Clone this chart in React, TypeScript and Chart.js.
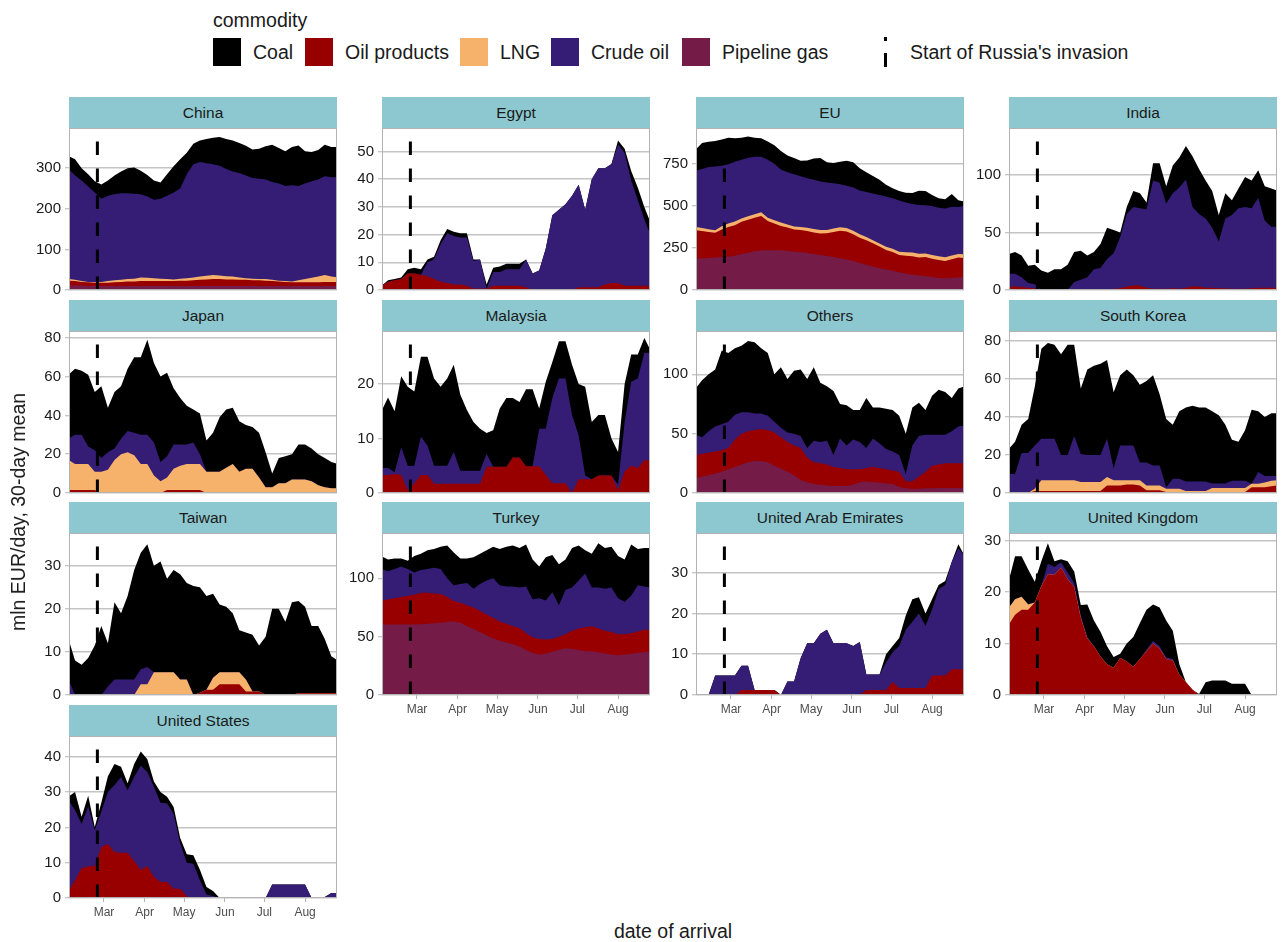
import React, { useEffect, useRef } from "react";
import { Chart, registerables } from "chart.js";

Chart.register(...registerables);

const FONT = "'Liberation Sans', Arial, Helvetica, sans-serif";

// x positions: day of year (Feb 2 = 33 ... Aug 26 = 238), 5-day steps
const days = [33, 38, 43, 48, 53, 58, 63, 68, 73, 78, 83, 88, 93, 98, 103, 108, 113, 118, 123, 128, 133, 138, 143, 148, 153, 158, 163, 168, 173, 178, 183, 188, 193, 198, 203, 208, 213, 218, 223, 228, 233, 238];
const monthTicks = [60, 91, 121, 152, 182, 213];
const monthLabels = ["Mar", "Apr", "May", "Jun", "Jul", "Aug"];
const invasionDay = 55;
const xMin = 33.4;
const xMax = 237.3;

// ---- China ----
const chinaPipe = [11, 11, 11, 10, 10, 10, 10, 10, 10, 10, 10, 10, 10, 10, 10, 10, 10, 10, 10, 10, 10, 10, 10, 10, 10, 10, 10, 10, 10, 10, 10, 10, 10, 10, 10, 10, 10, 10, 10, 10, 10, 10];
const chinaOil = [12, 11, 9, 9, 8, 8, 8, 9, 10, 11, 11, 12, 12, 12, 12, 12, 12, 13, 13, 14, 15, 16, 17, 17, 16, 16, 15, 15, 14, 14, 13, 12, 11, 10, 9, 9, 9, 9, 9, 10, 10, 10];
const chinaLng = [4, 3, 2, 1, 2, 2, 4, 5, 5, 6, 7, 9, 8, 7, 6, 5, 4, 5, 6, 7, 8, 9, 10, 9, 8, 7, 6, 4, 4, 3, 4, 3, 2, 2, 2, 5, 8, 11, 14, 17, 13, 11];
const chinaCrude = [271, 257, 248, 235, 220, 205, 210, 212, 213, 211, 209, 205, 200, 193, 197, 205, 214, 222, 256, 279, 282, 277, 273, 270, 264, 259, 257, 253, 248, 247, 245, 241, 239, 234, 237, 232, 235, 238, 239, 243, 245, 247];
const chinaCoal = [32, 40, 30, 30, 28, 35, 38, 46, 54, 62, 65, 58, 53, 48, 40, 53, 65, 72, 53, 50, 53, 60, 65, 71, 74, 76, 74, 73, 70, 74, 82, 92, 88, 86, 94, 100, 80, 72, 73, 78, 74, 74];

// ---- Egypt ----
const egyptOil = [1.5, 3, 3.5, 4, 6, 6, 5.5, 5, 4, 3, 2.5, 2, 2, 1.5, 0.5, 0.5, 0.5, 1.5, 1.5, 1.5, 1.5, 1.5, 1, 0, 0, 0, 0, 0, 0, 0, 1, 1, 1, 1, 2, 2.5, 2.5, 1.5, 1.5, 1.5, 1.5, 1.5];
const egyptCrude = [0, 0, 0, 0, 0, 0, 0, 5, 7, 13.5, 18, 17.5, 17, 17.5, 10, 10.5, 0, 5, 5, 6, 6, 6, 10, 6, 7, 15, 27, 29, 31, 34, 37, 28, 39, 43, 42, 43, 50, 48, 38, 31, 24, 18];
const egyptCoal = [0, 0.5, 0.5, 0.5, 1.5, 2, 2, 1, 1, 1.5, 1.5, 1.5, 1.5, 1.5, 0.5, 0, 1.5, 1.5, 2, 2, 2, 2, 0, 0, 0, 0, 0, 0, 0, 0, 0, 0, 0, 0, 0, 0, 1.5, 1.5, 3.5, 4.5, 4.5, 4.5];

// ---- EU ----
const euPipe = [186, 188, 190, 193, 196, 198, 204, 214, 222, 230, 235, 236, 236, 235, 232, 228, 224, 220, 214, 208, 202, 196, 188, 182, 172, 160, 150, 140, 130, 122, 114, 105, 97, 90, 86, 82, 77, 72, 70, 72, 75, 76];
const euOil = [169, 162, 155, 147, 164, 177, 181, 191, 196, 200, 205, 174, 159, 145, 140, 132, 132, 130, 128, 128, 136, 149, 164, 166, 160, 150, 146, 138, 128, 116, 112, 103, 106, 110, 107, 114, 109, 106, 103, 111, 118, 114];
const euLng = [20, 18, 16, 15, 19, 21, 22, 20, 21, 20, 22, 19, 20, 21, 18, 18, 19, 20, 21, 20, 19, 20, 21, 20, 20, 21, 19, 18, 18, 19, 19, 20, 22, 23, 22, 21, 22, 23, 22, 22, 21, 22];
const euCrude = [333, 352, 370, 379, 360, 351, 355, 349, 347, 342, 330, 345, 335, 316, 310, 310, 301, 294, 292, 289, 282, 269, 256, 252, 258, 260, 267, 278, 288, 299, 300, 304, 295, 288, 291, 287, 292, 288, 289, 290, 280, 288];
const euCoal = [126, 154, 150, 151, 155, 158, 140, 131, 127, 113, 110, 109, 110, 110, 100, 96, 92, 106, 126, 139, 120, 121, 134, 148, 150, 132, 118, 104, 91, 70, 60, 56, 58, 65, 84, 85, 65, 57, 56, 75, 40, 25];

// ---- India ----
const indiaOil = [3, 3, 2.5, 2, 1.5, 0, 0, 0, 0, 0, 0, 0, 0, 0, 0, 0, 1, 1.5, 3, 4, 4, 2, 1, 1, 1, 1.5, 1, 2, 3, 3, 2, 2, 1.5, 1.5, 1, 1, 1, 1.5, 2, 2, 2, 2];
const indiaCrude = [11, 11, 8.5, 4, 3.5, 0, 0, 0, 0, 0, 7, 9, 11, 18, 19, 27, 31, 44.5, 63, 68, 67, 68, 94, 92, 74, 82.5, 88, 94, 69, 63, 60, 52, 40.5, 60.5, 64, 70, 71, 69.5, 78, 58, 53, 53];
const indiaCoal = [17, 19, 19, 15, 17, 17, 15, 18, 18, 22, 26, 25, 19, 15, 21, 27, 20, 4, 6, 14, 13, 6, 15, 17, 15, 24, 26, 29, 44, 39, 33, 32, 23, 22, 13, 17, 26, 24, 24, 30, 33, 31];

// ---- Japan ----
const japanOil = [1.5, 1.5, 1.5, 1.5, 1.5, 0, 0, 0, 0, 0, 0, 0, 0, 0, 0, 1.5, 1.5, 1.5, 1.5, 1.5, 1.5, 0, 0, 0, 0, 0, 0, 0, 0, 0, 0, 0, 0, 0, 0, 0, 0, 0, 0, 0, 0, 0];
const japanLng = [15.5, 13.5, 13.5, 13.5, 9.5, 11, 12, 17, 20, 21, 19.5, 15, 15, 9, 6, 6.5, 11, 12.5, 13.5, 13.5, 13.5, 11, 11, 11, 13, 15, 11, 12.5, 12.5, 8, 3, 3, 5, 5, 7, 7, 7, 6, 4, 3, 2.5, 2.5];
const japanCrude = [11, 15, 15, 9, 11, 7, 9, 6, 8, 11, 11.5, 15, 15, 17, 10, 11, 12.5, 11, 10, 11, 5, 0, 0, 0, 0, 0, 0, 0, 0, 0, 0, 0, 0, 0, 0, 0, 0, 0, 0, 0, 0, 0];
const japanCoal = [33, 34, 33, 37, 30, 37, 23, 29, 27, 32, 39, 40, 49, 41, 44, 43, 29, 24, 20, 17, 21, 16, 20, 28, 30, 29, 26, 22.5, 21.5, 23, 18, 7, 13, 14, 13, 18, 18, 17, 16, 15, 13.5, 12.5];

// ---- Malaysia ----
const malaysiaOil = [3.3, 3.3, 3.5, 3.3, 0.5, 1.8, 3.3, 3.3, 1.7, 1.7, 1.7, 1.7, 1.7, 1.7, 1.7, 1.7, 4.8, 4.8, 4.8, 4.8, 6.5, 6.5, 4.9, 4.9, 4.9, 3.3, 1.8, 1.8, 1.8, 0, 2.5, 2.5, 2.5, 3.2, 3.2, 3.2, 0.5, 4, 5, 4.6, 6, 6];
const malaysiaCrude = [1.3, 1.3, 0.3, 5.1, 4.5, 3.2, 7, 5.4, 3.3, 3.3, 3.3, 5.8, 2.4, 2.4, 2.4, 2.4, 2.4, 0, 0, 0, 0, 0, 0, 0, 6.9, 8.5, 15.6, 19.2, 19.2, 14.3, 8.1, 0.7, 0, 0, 0, 0, 1, 9, 15.4, 16.4, 19.7, 19.7];
const malaysiaCoal = [10.4, 12.9, 11.2, 13, 14.5, 13.6, 14.7, 16.3, 16, 14.5, 16, 16, 13.9, 11.1, 8.9, 7.7, 3.8, 6.7, 10.7, 12.6, 10.9, 10.2, 14.1, 14.1, 3.7, 8.6, 6.6, 6.8, 6.8, 9.2, 9.4, 16.3, 10.5, 11.1, 11.1, 6.8, 6, 7, 5, 4.4, 2.7, 0.3];

// ---- Others ----
const othersPipe = [12, 14, 15, 16.5, 18, 20, 22, 24, 26, 27, 27, 26, 23, 20.5, 18, 15, 11, 9, 7.6, 7, 6.3, 6, 6, 6, 7, 9, 9.6, 9, 8.6, 8, 7.6, 5, 4, 3.4, 3.6, 4, 4, 4.2, 4.2, 4.2, 4.2, 4.2];
const othersOil = [20, 19, 19, 18.5, 18, 18, 23, 26, 26, 26, 27, 27, 28, 26.5, 25, 25, 27, 21, 18.4, 18, 17.7, 16, 15, 14, 13, 11, 11.4, 13, 12.4, 12, 11.4, 13, 6, 6.6, 10.4, 14, 19, 19.8, 20.8, 20.8, 20.8, 20.8];
const othersCrude = [17, 14, 18, 21, 22, 22, 21, 18, 16, 14, 13, 12, 9, 8, 8, 10, 10, 8, 18, 18, 20, 10, 25, 20, 25, 23, 17, 24, 21, 17, 16, 14, 6, 30, 34, 31, 26, 25, 24, 27, 31, 32];
const othersCoal = [39, 48, 48, 48, 62, 58, 56, 56, 60, 60, 55, 53, 40, 51, 45, 53, 56, 58, 62, 50, 46, 54, 29, 34, 25, 27, 42, 26, 30, 34, 35, 33, 34, 32, 28, 21, 33, 38, 36, 28, 32, 33];

// ---- South Korea ----
const skOil = [0, 0, 0, 0, 1, 1, 1, 1, 1, 1, 1, 1, 1, 1, 1, 4, 4, 4, 4.5, 4.5, 4, 1.4, 1.4, 1.4, 0.5, 0.5, 0.5, 0.5, 0.5, 0.5, 0.5, 0.5, 0.5, 0.5, 0.5, 0.5, 0.5, 3, 3, 3, 3.5, 4];
const skLng = [0, 0, 0, 0, 1.3, 5.7, 5.7, 5.7, 5.7, 5.7, 5.7, 4.8, 4.8, 4.8, 4.8, 4.4, 2.7, 2.7, 2.2, 2.2, 2.7, 2.6, 2.6, 2.6, 1.8, 1.8, 1.8, 0.5, 0.5, 0.5, 0.5, 2.1, 2.1, 2.1, 2.1, 2.1, 2.1, 1.9, 1.9, 2.5, 3, 2.7];
const skCrude = [10, 10, 21, 21, 22.7, 21.8, 21.8, 21.8, 13.3, 13.3, 23.3, 14.7, 14.2, 14.2, 14.2, 20.1, 6.3, 18.3, 18.3, 18.3, 9.3, 12, 10.5, 10.5, 0.7, 5.2, 5.2, 5, 5, 5, 5, 2.4, 2.4, 2.4, 3.9, 3.9, 3.9, 0, 6.1, 3.5, 2.5, 2.3];
const skCoal = [13, 17, 15, 18, 31, 47.5, 50.5, 49.5, 53, 58, 48, 34.5, 45, 47, 48, 41.5, 40, 37, 40, 37, 41, 43, 47.5, 37.5, 36, 28.5, 35.5, 39, 40, 39, 39, 38, 36, 31, 21.5, 20.5, 26.5, 39, 32, 31, 33, 33];

// ---- Taiwan ----
const taiwanOil = [0, 0, 0, 0, 0, 0, 0, 0, 0, 0, 0, 0, 0, 0, 0, 0, 0, 0, 0, 0, 0.5, 1.2, 1.2, 2.5, 2.5, 2.5, 2.5, 0.8, 0.8, 0.8, 0, 0, 0, 0, 0, 0.4, 0.4, 0.4, 0.4, 0.4, 0.4, 0.4];
const taiwanLng = [0, 0, 0, 0, 0, 0, 0, 0, 0, 0, 0, 2.5, 2.5, 5.3, 5.3, 5.3, 5.3, 3.6, 3.6, 0, 0, 0, 2.8, 2.8, 2.8, 2.8, 2.8, 2.8, 0, 0, 0, 0, 0, 0, 0, 0, 0, 0, 0, 0, 0, 0];
const taiwanCrude = [3.6, 0, 0, 0, 0, 0, 2, 3.6, 3.6, 3.6, 3.6, 3.5, 4, 0, 0, 0, 0, 0, 0, 0, 0, 0, 0, 0, 0, 0, 0, 0, 0, 0, 0, 0, 0, 0, 0, 0, 0, 0, 0, 0, 0, 0];
const taiwanCoal = [9.4, 8, 7, 8.6, 11.5, 16, 10, 17.9, 15.4, 19.4, 25.4, 27, 28.5, 24.7, 25.7, 21.7, 23.7, 24.4, 22.4, 25.3, 24.5, 21.8, 19.5, 15.7, 15.2, 13.7, 9.7, 10.9, 13.2, 10.7, 13.5, 20, 20, 17, 21.5, 21.4, 20.1, 15.6, 15.6, 12.6, 8.6, 7.6];

// ---- Turkey ----
const turkeyPipe = [60.3, 60.3, 60.3, 60.3, 60.3, 60.5, 60.7, 61, 61.5, 62, 62.5, 63, 62, 59, 56.5, 54, 51, 48.5, 46.5, 45, 43.5, 41.5, 38.5, 36, 34.5, 35.5, 37, 38.5, 40, 39.5, 38.5, 37.5, 37.4, 36.5, 35.5, 34.5, 34, 34.5, 35.3, 36, 36.8, 37];
const turkeyOil = [20.2, 21.7, 22.7, 23.7, 24.7, 25.5, 26.8, 26.5, 25.5, 24.5, 21.5, 17.5, 17, 18, 18.5, 18, 18, 17.5, 16.5, 16, 15.5, 16, 14.5, 13.5, 13.5, 12, 11, 11.5, 12, 15.5, 18.5, 20.5, 21.6, 20.5, 19.5, 19.5, 18, 17.5, 17.7, 18.5, 19.2, 19];
const turkeyCrude = [27.5, 24, 25, 26, 23, 19, 19.5, 20.5, 22, 21.5, 16, 13.5, 16, 19, 16, 23, 29, 34, 31, 32, 34, 34.5, 40, 32.5, 35, 33.5, 40, 27, 38, 37, 41, 46, 33, 35, 36, 38, 31, 28, 32, 39.5, 37, 36];
const turkeyCoal = [11, 10, 9, 7, 7, 14, 14, 16, 16, 19, 28, 28, 22, 21, 27, 26, 26, 27, 31, 34, 35, 34, 36, 34, 27, 37, 32, 35, 26, 34, 30, 20, 29, 38, 35, 35, 36, 36, 44, 31, 33, 34];

// ---- United Arab Emirates ----
const uaeOil = [0, 0, 0, 0, 0, 0, 0, 1.2, 1.2, 1.2, 1.2, 1.2, 1.2, 0, 0, 0, 0, 0, 0, 0, 0, 0, 0, 0, 0, 0, 1.2, 1.2, 1.2, 1.2, 3.2, 1.7, 1.7, 1.7, 1.7, 1.7, 4.8, 4.8, 4.8, 6.3, 6.3, 6.3];
const uaeCrude = [0, 0, 0, 4.8, 4.8, 4.8, 4.8, 6, 6, 0, 0, 0, 0, 0, 3.3, 3.3, 9, 12.7, 12.7, 15, 16, 12.7, 12.7, 12.7, 12, 13, 3.8, 3.8, 3.8, 6.8, 7.3, 10.3, 14.3, 16.3, 18.3, 15.3, 16.2, 21.2, 22.2, 26.4, 29.7, 27.7];
const uaeCoal = [0, 0, 0, 0, 0, 0, 0, 0, 0, 0, 0, 0, 0, 0, 0, 0, 0, 0, 0, 0, 0, 0, 0, 0, 0, 0, 0, 0, 0, 2, 1.5, 2, 3.5, 5.5, 4, 3, 2.5, 1, 1, 0, 1, 0];

// ---- United Kingdom ----
const ukOil = [13.6, 15.6, 16.6, 16.6, 18, 21.2, 23.5, 23.4, 24.8, 22.5, 21, 15, 11, 9.5, 7.5, 6, 5.3, 7.2, 6.5, 5.5, 7, 8.5, 10, 9, 7, 6.7, 4, 2.5, 1, 0, 0, 0, 0, 0, 0, 0, 0, 0, 0, 0, 0, 0];
const ukLng = [3.3, 3, 2.5, 1, 0, 0, 0, 0, 0, 0, 0, 0, 0, 0, 0, 0, 0, 0, 0, 0, 0, 0, 0, 0, 0, 0, 0, 0, 0, 0, 0, 0, 0, 0, 0, 0, 0, 0, 0, 0, 0, 0];
const ukCrude = [0, 0, 0, 0, 0, 0, 2, 1.5, 1, 1.3, 0.8, 0.5, 0.3, 0, 0, 0, 0, 0, 0, 0, 0, 0.3, 0.5, 0.5, 0.3, 0.3, 0, 0, 0, 0, 0, 0, 0, 0, 0, 0, 0, 0, 0, 0, 0, 0];
const ukCoal = [5.1, 8.4, 7.9, 6.8, 4, 4.8, 4, 1.1, 0.6, 2.2, 2.2, 2, 6.3, 5, 4.8, 3.5, 2.1, 0.8, 3.5, 5.8, 7, 7.8, 7.1, 7.5, 7.2, 5.5, 2, 0, 0, 0.2, 2.5, 2.8, 2.8, 2.8, 2.2, 2.2, 2.2, 0, 0, 0, 0, 0];

// ---- United States ----
const usOil = [2, 5, 8.5, 9, 9, 14.5, 15.3, 13, 12.8, 12.8, 10.5, 8, 9, 6, 4.5, 4.5, 2.6, 2.6, 0.5, 0, 0, 0, 0, 0, 0, 0, 0, 0, 0, 0, 0, 0, 0, 0, 0, 0, 0, 0, 0, 0, 0, 0];
const usCrude = [25.7, 19.9, 12.5, 17, 10.2, 10, 14.7, 19, 21.5, 17.7, 23.8, 29.5, 26.7, 25.5, 22.5, 22.3, 21.3, 12.9, 9.5, 9.7, 5, 1, 0.6, 0, 0, 0, 0, 0, 0, 0, 0, 3.8, 3.8, 3.8, 3.8, 3.8, 3.8, 0, 0, 0.3, 1.4, 1.4];
const usCoal = [1, 5.1, 2, 3, 0.9, 2.5, 4.5, 6, 2.9, 2, 3.7, 4, 3.6, 1.5, 3, 1.9, 1.9, 1.5, 2.4, 2.4, 3, 2.1, 1.4, 0, 0, 0, 0, 0, 0, 0, 0, 0, 0, 0, 0, 0, 0, 0, 0, 0, 0, 0];

// y tick labels per panel
const chinaTicks = [0, 100, 200, 300];
const egyptTicks = [0, 10, 20, 30, 40, 50];
const euTicks = [0, 250, 500, 750];
const indiaTicks = [0, 50, 100];
const japanTicks = [0, 20, 40, 60, 80];
const malaysiaTicks = [0, 10, 20];
const othersTicks = [0, 50, 100];
const skTicks = [0, 20, 40, 60, 80];
const taiwanTicks = [0, 10, 20, 30];
const turkeyTicks = [0, 50, 100];
const uaeTicks = [0, 10, 20, 30];
const ukTicks = [0, 10, 20, 30];
const usTicks = [0, 10, 20, 30, 40];

const commodities = [
  { key: "pipe", label: "Pipeline gas", color: "#741B47" },
  { key: "oil", label: "Oil products", color: "#980000" },
  { key: "lng", label: "LNG", color: "#F6B26B" },
  { key: "crude", label: "Crude oil", color: "#351C75" },
  { key: "coal", label: "Coal", color: "#000000" },
];

type PanelDef = {
  name: string;
  col: number;
  row: number;
  yMax: number;
  yTicks: number[];
  showX: boolean;
  series: { [k: string]: number[] | undefined };
};

const panels: PanelDef[] = [
  { name: "China", col: 0, row: 0, yMax: 399, yTicks: chinaTicks, showX: false, series: { pipe: chinaPipe, oil: chinaOil, lng: chinaLng, crude: chinaCrude, coal: chinaCoal } },
  { name: "Egypt", col: 1, row: 0, yMax: 58.5, yTicks: egyptTicks, showX: false, series: { oil: egyptOil, crude: egyptCrude, coal: egyptCoal } },
  { name: "EU", col: 2, row: 0, yMax: 963, yTicks: euTicks, showX: false, series: { pipe: euPipe, oil: euOil, lng: euLng, crude: euCrude, coal: euCoal } },
  { name: "India", col: 3, row: 0, yMax: 140.6, yTicks: indiaTicks, showX: false, series: { oil: indiaOil, crude: indiaCrude, coal: indiaCoal } },
  { name: "Japan", col: 0, row: 1, yMax: 83.5, yTicks: japanTicks, showX: false, series: { oil: japanOil, lng: japanLng, crude: japanCrude, coal: japanCoal } },
  { name: "Malaysia", col: 1, row: 1, yMax: 29.7, yTicks: malaysiaTicks, showX: false, series: { oil: malaysiaOil, crude: malaysiaCrude, coal: malaysiaCoal } },
  { name: "Others", col: 2, row: 1, yMax: 136.5, yTicks: othersTicks, showX: false, series: { pipe: othersPipe, oil: othersOil, crude: othersCrude, coal: othersCoal } },
  { name: "South Korea", col: 3, row: 1, yMax: 85.3, yTicks: skTicks, showX: false, series: { oil: skOil, lng: skLng, crude: skCrude, coal: skCoal } },
  { name: "Taiwan", col: 0, row: 2, yMax: 37.6, yTicks: taiwanTicks, showX: false, series: { oil: taiwanOil, lng: taiwanLng, crude: taiwanCrude, coal: taiwanCoal } },
  { name: "Turkey", col: 1, row: 2, yMax: 138.8, yTicks: turkeyTicks, showX: true, series: { pipe: turkeyPipe, oil: turkeyOil, crude: turkeyCrude, coal: turkeyCoal } },
  { name: "United Arab Emirates", col: 2, row: 2, yMax: 39.75, yTicks: uaeTicks, showX: true, series: { oil: uaeOil, crude: uaeCrude, coal: uaeCoal } },
  { name: "United Kingdom", col: 3, row: 2, yMax: 31.5, yTicks: ukTicks, showX: true, series: { oil: ukOil, lng: ukLng, crude: ukCrude, coal: ukCoal } },
  { name: "United States", col: 0, row: 3, yMax: 45.9, yTicks: usTicks, showX: true, series: { oil: usOil, crude: usCrude, coal: usCoal } },
];

// layout constants
const COL_LEFT = [69, 382, 696, 1009];
const STRIP_TOP = [97, 300, 502, 705];
const PANEL_W = 268;
const STRIP_H = 31;
const PLOT_H = 162;
const AXIS_W = 60;
const PAD = 16;
const XAXIS_H = 30;
const RIGHT_PAD = 4;

const borderPlugin = {
  id: "panelBorder",
  afterDraw(chart: any) {
    const { ctx, chartArea: a } = chart;
    ctx.save();
    ctx.strokeStyle = "#b3b3b3";
    ctx.lineWidth = 1;
    ctx.strokeRect(a.left + 0.5, a.top + 0.5, a.right - a.left - 1, a.bottom - a.top - 1);
    ctx.restore();
  },
};

const invasionPlugin = {
  id: "invasionLine",
  afterDatasetsDraw(chart: any) {
    const { ctx, chartArea: a } = chart;
    const x = chart.scales.x.getPixelForValue(invasionDay);
    ctx.save();
    ctx.beginPath();
    ctx.rect(a.left, a.top, a.right - a.left, a.bottom - a.top);
    ctx.clip();
    ctx.strokeStyle = "#000000";
    ctx.lineWidth = 3;
    ctx.setLineDash([13.4, 13.6]);
    ctx.beginPath();
    ctx.moveTo(x, a.bottom);
    ctx.lineTo(x, a.top);
    ctx.stroke();
    ctx.restore();
  },
};

function Panel({ p }: { p: PanelDef }) {
  const ref = useRef<HTMLCanvasElement | null>(null);
  const left = COL_LEFT[p.col];
  const stripTop = STRIP_TOP[p.row];
  const plotTop = stripTop + STRIP_H;
  const cw = AXIS_W + PANEL_W + RIGHT_PAD;
  const ch = PAD + PLOT_H + (p.showX ? XAXIS_H : PAD);

  useEffect(() => {
    if (!ref.current) return;
    const datasets = commodities
      .filter((c) => p.series[c.key])
      .map((c) => {
        const vals = p.series[c.key] as number[];
        return {
          label: c.label,
          data: days.map((d, i) => ({ x: d, y: vals[i] })),
          backgroundColor: c.color,
          borderColor: c.color,
          borderWidth: 0,
          pointRadius: 0,
          pointHoverRadius: 0,
          tension: 0,
          fill: "origin",
        };
      });

    const chart = new Chart(ref.current, {
      type: "line",
      data: { datasets } as any,
      options: {
        animation: false,
        responsive: false,
        maintainAspectRatio: false,
        devicePixelRatio: 1,
        events: [],
        layout: { padding: { top: PAD, left: 0, right: RIGHT_PAD, bottom: p.showX ? 0 : PAD } },
        plugins: { legend: { display: false }, tooltip: { enabled: false } },
        scales: {
          x: {
            type: "linear",
            min: xMin,
            max: xMax,
            display: p.showX,
            afterFit: (s: any) => {
              if (p.showX) s.height = XAXIS_H;
            },
            afterBuildTicks: (s: any) => {
              s.ticks = monthTicks.map((v) => ({ value: v }));
            },
            ticks: {
              autoSkip: false,
              maxRotation: 0,
              padding: 3,
              color: "#4d4d4d",
              font: { family: FONT, size: 12 },
              callback: (_v: any, i: number) => monthLabels[i],
            },
            grid: { drawOnChartArea: false, drawTicks: true, tickLength: 4, tickColor: "#b3b3b3", tickWidth: 1 },
            border: { display: false },
          },
          y: {
            type: "linear",
            stacked: true,
            min: 0,
            max: p.yMax,
            bounds: "data",
            afterFit: (s: any) => {
              s.width = AXIS_W;
            },
            afterBuildTicks: (s: any) => {
              s.ticks = p.yTicks.map((v) => ({ value: v }));
            },
            ticks: {
              autoSkip: false,
              padding: 4,
              color: "#1a1a1a",
              font: { family: FONT, size: 15 },
              callback: (v: any) => String(v),
            },
            grid: { color: "#c4c4c4", lineWidth: 1.5, drawTicks: true, tickLength: 4, tickColor: "#b3b3b3", tickWidth: 1 },
            border: { display: false },
          },
        },
      } as any,
      plugins: [borderPlugin, invasionPlugin],
    });
    return () => chart.destroy();
  }, []);

  return (
    <>
      <div
        style={{
          position: "absolute",
          left,
          top: stripTop,
          width: PANEL_W,
          height: STRIP_H,
          background: "#8DC8D0",
          color: "#1a1a1a",
          fontFamily: FONT,
          fontSize: 15.5,
          lineHeight: `${STRIP_H}px`,
          textAlign: "center",
          whiteSpace: "nowrap",
        }}
      >
        {p.name}
      </div>
      <canvas
        ref={ref}
        width={cw}
        height={ch}
        style={{ position: "absolute", left: left - AXIS_W, top: plotTop - PAD, width: cw, height: ch }}
      />
    </>
  );
}

const legendItems = [
  { label: "Coal", color: "#000000", x: 213 },
  { label: "Oil products", color: "#980000", x: 305 },
  { label: "LNG", color: "#F6B26B", x: 460 },
  { label: "Crude oil", color: "#351C75", x: 551 },
  { label: "Pipeline gas", color: "#741B47", x: 682 },
];

export default function App() {
  const textStyle: React.CSSProperties = {
    position: "absolute",
    fontFamily: FONT,
    fontSize: 19.5,
    color: "#1a1a1a",
    whiteSpace: "nowrap",
  };
  return (
    <div style={{ position: "absolute", left: 0, top: 0, width: 1284, height: 942, background: "#ffffff", overflow: "hidden" }}>
      {/* legend */}
      <div style={{ ...textStyle, left: 213, top: 9, lineHeight: "22px" }}>commodity</div>
      {legendItems.map((it) => (
        <React.Fragment key={it.label}>
          <div style={{ position: "absolute", left: it.x, top: 38, width: 28, height: 28, background: it.color }} />
          <div style={{ ...textStyle, left: it.x + 40, top: 38, lineHeight: "28px" }}>{it.label}</div>
        </React.Fragment>
      ))}
      <div style={{ position: "absolute", left: 884, top: 37, width: 3, height: 4, background: "#000" }} />
      <div style={{ position: "absolute", left: 884, top: 53, width: 3, height: 14, background: "#000" }} />
      <div style={{ ...textStyle, left: 910, top: 38, lineHeight: "28px" }}>Start of Russia's invasion</div>

      {panels.map((p) => (
        <Panel key={p.name} p={p} />
      ))}

      {/* axis titles */}
      <div
        style={{
          ...textStyle,
          left: 18,
          top: 512,
          transform: "translate(-50%, -50%) rotate(-90deg)",
          lineHeight: "22px",
        }}
      >
        mln EUR/day, 30-day mean
      </div>
      <div style={{ ...textStyle, left: 673, top: 931, transform: "translate(-50%, -50%)", lineHeight: "22px" }}>
        date of arrival
      </div>
    </div>
  );
}
